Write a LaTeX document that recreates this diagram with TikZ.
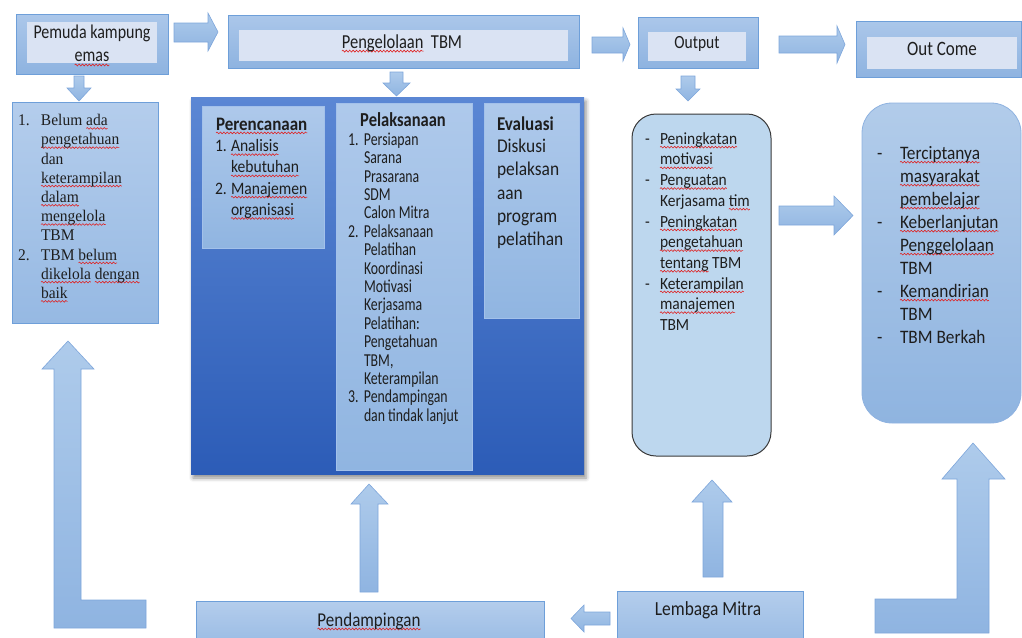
\documentclass[tikz,border=0pt]{standalone}
\usepackage{fontspec}
\setmainfont{Carlito}
\newfontfamily\tnr{Liberation Serif}
\usepackage{graphicx}
\usetikzlibrary{shadows.blur,decorations.pathmorphing}

\definecolor{txt}{HTML}{1E1E1E}
\definecolor{squig}{HTML}{E02020}
\definecolor{arTop}{HTML}{AECBEB}
\definecolor{arBot}{HTML}{8FB4E1}
\definecolor{arLine}{HTML}{7EA6DB}
\definecolor{bxTop}{HTML}{ABC7EA}
\definecolor{bxBot}{HTML}{8EB3E0}
\definecolor{bxLine}{HTML}{6E9FD9}
\definecolor{bxIn}{HTML}{DAE3F3}
\definecolor{lbTop}{HTML}{B4CDEC}
\definecolor{lbBot}{HTML}{96B9E3}
\definecolor{bigTop}{HTML}{5B87D4}
\definecolor{bigBot}{HTML}{2C5CB7}
\definecolor{inTop}{HTML}{AEC9EB}
\definecolor{inBot}{HTML}{90B5E1}
\definecolor{inLine}{HTML}{A3C1EA}
\definecolor{outFill}{HTML}{BDD7EE}
\definecolor{outLine}{HTML}{3A3A3A}
\definecolor{ocTop}{HTML}{B2CCEA}
\definecolor{ocBot}{HTML}{8FB4E0}
\definecolor{ocLine}{HTML}{8EB2E0}

% red wavy spell-check underline
\newlength\sqlen
\newcommand\sq[1]{\settowidth\sqlen{#1}\leavevmode\rlap{\tikz[overlay,x=1pt,y=1pt]{\draw[squig, line width=0.55pt, decorate, decoration={snake, amplitude=0.8pt, segment length=3.4pt}] (0pt,-2.6pt) -- (\the\sqlen,-2.6pt);}}#1}

\newcommand\mk[2]{\makebox[#1pt][l]{#2}}
% stretch, size, skip, colspec, content
\newcommand\stx[5]{\scalebox{1}[#1]{\fontsize{#2}{#3}\selectfont\begin{tabular}[t]{@{}#4@{}}#5\end{tabular}}}
\newcommand\bx[6]{\node[#2, anchor=north west, minimum width={#5-#3}, minimum height={#6-#4}] (#1) at (#3,#4) {};}

\tikzset{
  every node/.style={inner sep=0pt, outer sep=0pt, text=txt},
  obox/.style={draw=bxLine, line width=0.8pt, top color=bxTop, bottom color=bxBot},
  ibox/.style={fill=bxIn},
  lbox/.style={draw=bxLine, line width=0.8pt, top color=lbTop, bottom color=lbBot},
  bigbox/.style={top color=bigTop, bottom color=bigBot,
     blur shadow={shadow xshift=2pt, shadow yshift=-4pt, shadow blur radius=4pt, shadow opacity=45}},
  inbox/.style={draw=inLine, line width=0.8pt, top color=inTop, bottom color=inBot},
  outbox/.style={draw=outLine, line width=1pt, fill=outFill, rounded corners=24pt},
  ocbox/.style={draw=ocLine, line width=0.8pt, top color=ocTop, bottom color=ocBot, rounded corners=30pt},
  arr/.style={draw=arLine, line width=0.6pt, top color=arTop, bottom color=arBot},
  lbl/.style={anchor=base},
  lst/.style={anchor=base west},
}

\begin{document}
\begin{tikzpicture}[x=1pt, y=-1pt]
\useasboundingbox (0,0) rectangle (1022,637);
\clip (0,0) rectangle (1022,637);

% ---------- top row ----------
\bx{pemuda}{obox}{16}{14}{168}{74}
\bx{pemudain}{ibox}{27}{22}{157}{63}
\node[lbl] (pemudatxt) at (92,38) {\stx{1.22}{16}{19.5}{c}{Pemuda kampung\\\sq{emas}}};

\bx{kelola}{obox}{228}{15}{579}{68}
\bx{kelolain}{ibox}{239}{30}{568}{61}
\node[lbl] (kelolatxt) at (402,48) {\stx{1.2}{16.5}{20}{c}{\sq{Pengelolaan}\ \ TBM}};

\bx{output}{obox}{638}{17}{758}{68}
\bx{outputin}{ibox}{648}{32}{746}{61}
\node[lbl] (outputtxt) at (697,48) {\stx{1.2}{15.5}{19}{c}{Output}};

\bx{outcome}{obox}{856}{21}{1021}{77}
\bx{outcomein}{ibox}{867}{37}{1017}{69}
\node[lbl] (outcometxt) at (942,55) {\stx{1.2}{17}{20}{c}{Out Come}};

% horizontal arrows top
\draw[arr] (174,23) -- (208,23) -- (208,13) -- (218,32) -- (208,51) -- (208,42) -- (174,42) -- cycle;
\draw[arr] (592,37) -- (623,37) -- (623,28) -- (630,44.5) -- (623,61) -- (623,53) -- (592,53) -- cycle;
\draw[arr] (779,36) -- (837,36) -- (837,26) -- (845,44.5) -- (837,63) -- (837,53) -- (779,53) -- cycle;

% down arrows
\draw[arr] (74,76) -- (84,76) -- (84,88) -- (91,88) -- (79,101) -- (67,88) -- (74,88) -- cycle;
\draw[arr] (390,72) -- (403,72) -- (403,83) -- (410,83) -- (396.5,96) -- (383,83) -- (390,83) -- cycle;
\draw[arr] (681,76) -- (695,76) -- (695,89) -- (700,89) -- (688,101) -- (676,89) -- (681,89) -- cycle;

% ---------- left problem box ----------
\bx{problem}{lbox}{12}{102}{158}{323}
\node[lst] (problemtxt) at (18,125.7) {\tnr\stx{1.05}{15.5}{18.3}{l}{%
\mk{23}{1.}Belum \sq{ada}\\
\mk{23}{}\sq{pengetahuan}\\
\mk{23}{}dan\\
\mk{23}{}\sq{keterampilan}\\
\mk{23}{}\sq{dalam}\\
\mk{23}{}\sq{mengelola}\\
\mk{23}{}TBM\\
\mk{23}{2.}TBM \sq{belum}\\
\mk{23}{}\sq{dikelola} \sq{dengan}\\
\mk{23}{}\sq{baik}}};

% ---------- big process box ----------
\bx{proses}{bigbox}{191}{97}{584}{474}
\bx{rencana}{inbox}{202}{106}{324}{248}
\bx{laksana}{inbox}{336}{103}{472}{470}
\bx{evaluasi}{inbox}{484}{103}{579}{318}

\node[lst] (rencanahd) at (216,130) {\fontsize{17}{20}\selectfont\scalebox{1}[1.12]{\bfseries\sq{Perencanaan}}};
\node[lst] (rencanatxt) at (215,151.7) {\stx{1.12}{15.6}{19}{l}{%
\mk{16}{1.}\sq{Analisis}\\
\mk{16}{}\sq{kebutuhan}\\
\mk{16}{2.}\sq{Manajemen}\\
\mk{16}{}\sq{organisasi}}};

\node[lbl] (laksanahd) at (403,126.7) {\fontsize{16.5}{20}\selectfont\scalebox{1}[1.2]{\bfseries Pelaksanaan}};
\node[lst] (laksanatxt) at (348,145.3) {\stx{1.32}{13.8}{13.94}{l}{%
\mk{16}{1.}Persiapan\\
\mk{16}{}Sarana\\
\mk{16}{}Prasarana\\
\mk{16}{}SDM\\
\mk{16}{}Calon Mitra\\
\mk{16}{2.}Pelaksanaan\\
\mk{16}{}Pelatihan\\
\mk{16}{}Koordinasi\\
\mk{16}{}Motivasi\\
\mk{16}{}Kerjasama\\
\mk{16}{}Pelatihan:\\
\mk{16}{}Pengetahuan\\
\mk{16}{}TBM,\\
\mk{16}{}Keterampilan\\
\mk{16}{3.}Pendampingan\\
\mk{16}{}dan tindak lanjut}};

\node[lst] (evaluasihd) at (497,130.7) {\fontsize{17}{20}\selectfont\scalebox{1}[1.15]{\bfseries Evaluasi}};
\node[lst] (evaluasitxt) at (497,152.7) {\stx{1.12}{17.4}{20.8}{l}{%
Diskusi\\pelaksan\\aan\\program\\pelatihan}};

% ---------- output list ----------
\bx{outlist}{outbox}{632}{114}{771}{456}
\node[lst] (outlisttxt) at (645,144.3) {\stx{1.1}{15.5}{18.8}{l}{%
\mk{15}{-}\sq{Peningkatan}\\
\mk{15}{}\sq{motivasi}\\
\mk{15}{-}\sq{Penguatan}\\
\mk{15}{}Kerjasama \sq{tim}\\
\mk{15}{-}\sq{Peningkatan}\\
\mk{15}{}\sq{pengetahuan}\\
\mk{15}{}\sq{tentang} TBM\\
\mk{15}{-}\sq{Keterampilan}\\
\mk{15}{}\sq{manajemen}\\
\mk{15}{}TBM}};

\draw[arr] (779,206) -- (834,206) -- (834,196) -- (853,215.5) -- (834,235) -- (834,225) -- (779,225) -- cycle;

% ---------- outcome list ----------
\bx{oclist}{ocbox}{862}{103}{1021}{423}
\node[lst] (oclisttxt) at (877,159.3) {\stx{1.1}{17.3}{20.9}{l}{%
\mk{23}{-}\sq{Terciptanya}\\
\mk{23}{}\sq{masyarakat}\\
\mk{23}{}\sq{pembelajar}\\
\mk{23}{-}\sq{Keberlanjutan}\\
\mk{23}{}\sq{Penggelolaan}\\
\mk{23}{}TBM\\
\mk{23}{-}\sq{Kemandirian}\\
\mk{23}{}TBM\\
\mk{23}{-}TBM Berkah}};

% ---------- bottom row ----------
\bx{dampingan}{lbox}{196}{601}{544}{650}
\node[lbl] (dampingantxt) at (369,626) {\stx{1.15}{17}{20}{c}{\sq{Pendampingan}}};
\bx{mitra}{lbox}{617}{591}{803}{650}
\node[lbl] (mitratxt) at (708,615) {\stx{1.15}{17.4}{20}{c}{Lembaga Mitra}};

% up arrows
\draw[arr] (360,592) -- (360,504) -- (351,504) -- (369,484) -- (388,504) -- (378,504) -- (378,592) -- cycle;
\draw[arr] (703,577) -- (703,502) -- (692,502) -- (712,480) -- (732,502) -- (723,502) -- (723,577) -- cycle;
% left arrow
\draw[arr] (610,612) -- (584,612) -- (584,605) -- (571,618.5) -- (584,632) -- (584,625) -- (610,625) -- cycle;

% L-shaped arrows
\draw[arr] (54,628) -- (54,369) -- (42,369) -- (68,341) -- (94,369) -- (81,369) -- (81,600) -- (146,600) -- (146,628) -- cycle;
\draw[arr] (989,633) -- (989,479) -- (1005,479) -- (973,443) -- (942,479) -- (957,479) -- (957,599) -- (875,599) -- (875,633) -- cycle;
\end{tikzpicture}
\end{document}
